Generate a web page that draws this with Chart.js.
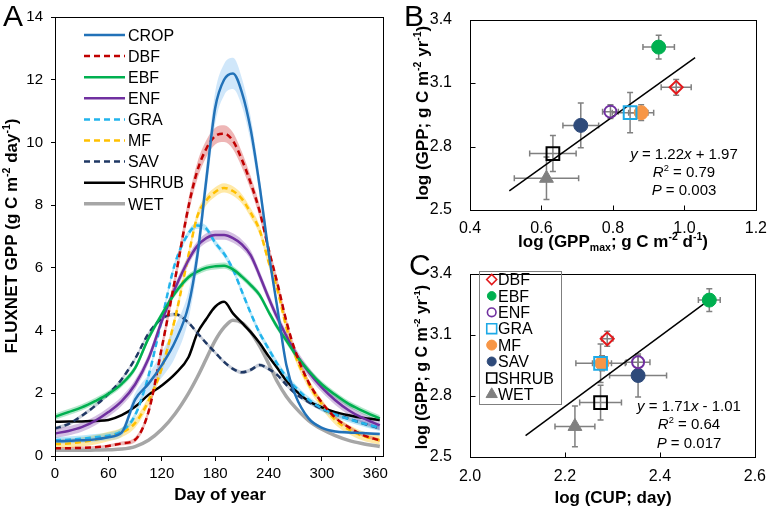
<!DOCTYPE html>
<html>
<head>
<meta charset="utf-8">
<title>FLUXNET GPP</title>
<script src="https://cdn.jsdelivr.net/npm/chart.js@4.4.1/dist/chart.umd.min.js"></script>
<style>
  html, body { margin: 0; padding: 0; background: #fff; }
  #fig { position: relative; width: 768px; height: 508px; overflow: hidden; }
  #fig canvas { position: absolute; }
</style>
</head>
<body>
<div id="fig">
  <canvas id="panelA" width="392" height="508" style="left:0;top:0"></canvas>
  <canvas id="panelB" width="376" height="254" style="left:392px;top:0"></canvas>
  <canvas id="panelC" width="376" height="254" style="left:392px;top:254px"></canvas>
</div>
<script>
// ---- panel A: seasonal GPP per biome ----
var DAYS = [0, 15, 30, 45, 60, 75, 90, 105, 120, 135, 150, 160, 170, 180, 190, 200, 210, 220, 230, 240, 250, 260, 270, 285, 300, 315, 330, 345, 365];
var DAY_TICKS = [0, 60, 120, 180, 240, 300, 360];
var GPP_TICKS = [0, 2, 4, 6, 8, 10, 12, 14];

var crop  = [0.47, 0.48, 0.5, 0.53, 0.6, 0.75, 1.8, 2.3, 2.9, 3.65, 4.8, 6.4, 8.8, 11.1, 12.0, 12.2, 11.6, 10.4, 8.6, 6.5, 4.7, 2.9, 1.95, 1.2, 0.9, 0.78, 0.75, 0.73, 0.7];
var dbf   = [0.25, 0.25, 0.26, 0.28, 0.32, 0.4, 0.52, 1.4, 3.45, 5.65, 7.95, 9.1, 9.8, 10.2, 10.28, 10.05, 9.45, 8.7, 7.8, 6.6, 5.5, 4.3, 3.35, 2.35, 1.7, 1.22, 0.92, 0.68, 0.5];
var ebf   = [1.25, 1.4, 1.55, 1.75, 1.98, 2.3, 2.8, 3.75, 4.52, 5.2, 5.7, 5.88, 6.0, 6.05, 6.07, 5.95, 5.72, 5.45, 5.13, 4.6, 4.1, 3.68, 3.25, 2.72, 2.28, 1.95, 1.66, 1.45, 1.2];
var enf   = [0.72, 0.8, 0.92, 1.12, 1.4, 1.75, 2.28, 3.1, 4.3, 5.35, 6.25, 6.7, 6.95, 7.05, 7.05, 6.95, 6.75, 6.4, 5.75, 5.05, 4.4, 3.83, 3.3, 2.68, 2.18, 1.78, 1.46, 1.22, 0.98];
var gra   = [0.5, 0.52, 0.55, 0.6, 0.65, 0.8, 1.3, 2.55, 4.35, 6.15, 7.1, 7.35, 7.25, 6.8, 6.45, 5.95, 5.25, 4.55, 3.92, 3.42, 2.93, 2.52, 2.2, 1.8, 1.52, 1.32, 1.18, 1.05, 0.9];
var mf    = [0.38, 0.4, 0.45, 0.52, 0.62, 0.75, 1.05, 1.75, 2.8, 4.4, 6.4, 7.65, 8.15, 8.42, 8.55, 8.45, 8.2, 7.75, 7.2, 6.2, 5.3, 4.1, 3.2, 2.3, 1.65, 1.15, 0.85, 0.65, 0.5];
var sav   = [0.88, 1.02, 1.28, 1.6, 1.98, 2.45, 3.1, 3.9, 4.38, 4.52, 4.25, 3.92, 3.6, 3.3, 3.0, 2.78, 2.67, 2.75, 2.9, 2.78, 2.58, 2.27, 2.0, 1.72, 1.5, 1.33, 1.19, 1.05, 0.88];
var shrub = [1.09, 1.1, 1.1, 1.12, 1.15, 1.3, 1.57, 1.95, 2.25, 2.62, 3.15, 3.92, 4.37, 4.76, 4.92, 4.55, 4.25, 3.95, 3.6, 3.18, 2.8, 2.4, 2.1, 1.75, 1.55, 1.4, 1.3, 1.22, 1.15];
var wet   = [0.18, 0.18, 0.18, 0.19, 0.2, 0.22, 0.3, 0.5, 0.85, 1.35, 2.0, 2.52, 3.1, 3.68, 4.1, 4.33, 4.25, 3.95, 3.5, 2.95, 2.36, 1.9, 1.55, 1.13, 0.85, 0.65, 0.5, 0.4, 0.3];

// half-width of the shaded uncertainty band
var cropSpread = [0.08, 0.08, 0.08, 0.08, 0.1, 0.12, 0.2, 0.3, 0.4, 0.5, 0.45, 0.4, 0.45, 0.5, 0.5, 0.5, 0.45, 0.4, 0.3, 0.2, 0.15, 0.1, 0.08, 0.06, 0.05, 0.05, 0.05, 0.05, 0.05];
var dbfSpread  = [0.04, 0.04, 0.04, 0.04, 0.05, 0.06, 0.08, 0.12, 0.18, 0.22, 0.25, 0.27, 0.27, 0.27, 0.27, 0.27, 0.25, 0.22, 0.2, 0.18, 0.15, 0.12, 0.1, 0.08, 0.06, 0.05, 0.05, 0.05, 0.05];

var names   = ['CROP', 'DBF', 'EBF', 'ENF', 'GRA', 'MF', 'SAV', 'SHRUB', 'WET'];
var values  = [crop, dbf, ebf, enf, gra, mf, sav, shrub, wet];
var spreads = [cropSpread, dbfSpread, 0.1, 0.15, 0.1, 0.15, 0.06, 0, 0];
var colors  = ['#2272b8', '#c00000', '#00b050', '#7030a0', '#22b4ec', '#ffc000', '#1f3864', '#000000', '#a6a6a6'];
var bands   = ['rgba(120,185,240,0.35)', 'rgba(205,45,45,0.35)', 'rgba(0,176,80,0.3)', 'rgba(112,48,160,0.3)',
               'rgba(34,180,236,0.3)', 'rgba(255,192,0,0.35)', 'rgba(31,56,100,0.25)', null, null];
var dashed  = [false, true, false, false, true, true, true, false, false];
var widths  = [2.5, 2.5, 2.5, 2.5, 2.5, 2.5, 2.5, 2.5, 3.5];

// ---- panels B and C: annual GPP vs GPPmax and CUP ----
var types     = ['DBF', 'EBF', 'ENF', 'GRA', 'MF', 'SAV', 'SHRUB', 'WET'];
var gppLog    = [3.08, 3.27, 2.965, 2.96, 2.96, 2.9, 2.767, 2.65];
var gppErr    = [0.037, 0.056, 0.033, 0.095, 0.037, 0.106, 0.085, 0.1];
var gppMaxLog = [0.977, 0.928, 0.793, 0.848, 0.879, 0.71, 0.632, 0.614];
var gppMaxErr = [0.042, 0.044, 0.022, 0.05, 0.035, 0.05, 0.065, 0.09];
var cupLog    = [2.289, 2.504, 2.354, 2.275, 2.278, 2.354, 2.275, 2.221];
var cupErr    = [0.012, 0.023, 0.025, 0.052, 0.02, 0.06, 0.044, 0.042];
var fitBx = [0.51, 1.03], fitBy = [2.59, 3.22];
var fitCx = [2.117, 2.506], fitCy = [2.605, 3.275];
var maxTicks = [0.4, 0.6, 0.8, 1.0, 1.2];
var cupTicks = [2.0, 2.2, 2.4, 2.6];
var gppLogTicks = [2.5, 2.8, 3.1, 3.4];

var markStyle  = ['rectRot', 'circle', 'circle', 'rect', 'circle', 'circle', 'rect', 'triangle'];
var markFill   = [null, '#00b050', null, null, '#f79646', '#2e4a7a', null, '#808080'];
var markEdge   = ['#e3191c', '#00b050', '#7030a0', '#1ea9e6', '#f79646', '#2e4a7a', '#000000', '#808080'];
var markRadius = [6.5, 7, 6, 9, 7, 7, 9, 8];
var legRadius  = [5, 4.3, 4.3, 7, 5, 4.5, 7, 6.5];

var FONT = '"Liberation Sans", Arial, Helvetica, sans-serif';
Chart.defaults.font.family = FONT;
Chart.defaults.color = '#000';

function partFont(kind, size, weight) {
  var small = kind === 'sup' || kind === 'sub';
  return (kind === 'i' ? 'italic ' : '') + weight + ' ' + (small ? size * 0.62 : size) + 'px ' + FONT;
}

// text made of parts: ['text', ''|'i'|'sup'|'sub'], centred on caps at (x, y)
function drawRich(ctx, t) {
  var size = t.size, weight = t.weight || 'normal';
  ctx.save();
  ctx.translate(t.x, t.y);
  if (t.rot) ctx.rotate(t.rot);
  ctx.fillStyle = '#000';
  ctx.textBaseline = 'alphabetic';
  ctx.textAlign = 'left';
  var w = 0;
  t.parts.forEach(function (p) { ctx.font = partFont(p[1], size, weight); w += ctx.measureText(p[0]).width; });
  var x = t.align === 'left' ? 0 : -w / 2;
  var base = size * 0.36;
  t.parts.forEach(function (p) {
    ctx.font = partFont(p[1], size, weight);
    var dy = p[1] === 'sup' ? -size * 0.4 : (p[1] === 'sub' ? size * 0.22 : 0);
    ctx.fillText(p[0], x, base + dy);
    x += ctx.measureText(p[0]).width;
  });
  ctx.restore();
}

function letter(ctx, s, x, y) {
  ctx.save();
  ctx.font = '30px ' + FONT;
  ctx.fillStyle = '#000';
  ctx.textBaseline = 'alphabetic';
  ctx.fillText(s, x, y);
  ctx.restore();
}

function framePlugin(inside) {
  return {
    id: 'frame',
    afterDatasetsDraw: function (chart) {
      var ctx = chart.ctx, a = chart.chartArea;
      var l = Math.round(a.left) + 0.5, t = Math.round(a.top) + 0.5;
      var r = Math.round(a.right) + 0.5, b = Math.round(a.bottom) + 0.5;
      ctx.save();
      ctx.strokeStyle = '#000';
      ctx.lineWidth = 1;
      ctx.strokeRect(l, t, r - l, b - t);
      if (inside) {
        ctx.beginPath();
        chart.scales.x.ticks.forEach(function (tk) {
          var px = Math.round(chart.scales.x.getPixelForValue(tk.value)) + 0.5;
          ctx.moveTo(px, b); ctx.lineTo(px, b - 5);
        });
        chart.scales.y.ticks.forEach(function (tk) {
          var py = Math.round(chart.scales.y.getPixelForValue(tk.value)) + 0.5;
          ctx.moveTo(l, py); ctx.lineTo(l + 5, py);
        });
        ctx.stroke();
      }
      ctx.restore();
    }
  };
}

var errorBars = {
  id: 'errorBars',
  beforeDatasetsDraw: function (chart) {
    var ctx = chart.ctx, xs = chart.scales.x, ys = chart.scales.y;
    ctx.save();
    ctx.strokeStyle = '#808080';
    ctx.lineWidth = 1.5;
    chart.data.datasets.forEach(function (ds) {
      if (ds.ey === undefined) return;
      var p = ds.data[0];
      var px = xs.getPixelForValue(p.x), py = ys.getPixelForValue(p.y);
      var x0 = xs.getPixelForValue(p.x - ds.ex), x1 = xs.getPixelForValue(p.x + ds.ex);
      var y0 = ys.getPixelForValue(p.y - ds.ey), y1 = ys.getPixelForValue(p.y + ds.ey);
      ctx.beginPath();
      ctx.moveTo(x0, py); ctx.lineTo(x1, py);
      ctx.moveTo(x0, py - 3); ctx.lineTo(x0, py + 3);
      ctx.moveTo(x1, py - 3); ctx.lineTo(x1, py + 3);
      ctx.moveTo(px, y0); ctx.lineTo(px, y1);
      ctx.moveTo(px - 3, y0); ctx.lineTo(px + 3, y0);
      ctx.moveTo(px - 3, y1); ctx.lineTo(px + 3, y1);
      ctx.stroke();
    });
    ctx.restore();
  }
};

function fixedTicks(list) {
  return function (scale) { scale.ticks = list.map(function (v) { return { value: v }; }); };
}

// ---------- Panel A ----------
var datasetsA = [];
names.forEach(function (name, i) {
  var sp = spreads[i];
  if (!sp) return;
  var half = function (j) { return Array.isArray(sp) ? sp[j] : sp; };
  var common = { pointRadius: 0, borderWidth: 0, borderColor: 'rgba(0,0,0,0)', cubicInterpolationMode: 'monotone', order: 30 };
  datasetsA.push(Object.assign({
    data: values[i].map(function (v, j) { return { x: DAYS[j], y: v + half(j) }; }),
    fill: '+1', backgroundColor: bands[i]
  }, common));
  datasetsA.push(Object.assign({
    data: values[i].map(function (v, j) { return { x: DAYS[j], y: v - half(j) }; }),
    fill: false
  }, common));
});
names.forEach(function (name, i) {
  datasetsA.push({
    label: name,
    data: values[i].map(function (v, j) { return { x: DAYS[j], y: v }; }),
    borderColor: colors[i],
    borderWidth: widths[i],
    borderDash: dashed[i] ? [6, 4] : [],
    pointRadius: 0,
    fill: false,
    cubicInterpolationMode: 'monotone',
    order: i
  });
});

var decorA = {
  id: 'decorA',
  afterDraw: function (chart) {
    var ctx = chart.ctx;
    letter(ctx, 'A', 3, 26);
    drawRich(ctx, { x: 11, y: 236, rot: -Math.PI / 2, size: 17, weight: 'bold',
      parts: [['FLUXNET GPP (g C m', ''], ['-2', 'sup'], [' day', ''], ['-1', 'sup'], [')', '']] });
    drawRich(ctx, { x: 220, y: 494, size: 17, weight: 'bold', parts: [['Day of year', '']] });
    names.forEach(function (name, i) {
      var y = 35 + i * 21.1;
      ctx.save();
      ctx.strokeStyle = colors[i];
      ctx.lineWidth = widths[i];
      ctx.setLineDash(dashed[i] ? [6, 4] : []);
      ctx.beginPath();
      ctx.moveTo(84, y); ctx.lineTo(125, y);
      ctx.stroke();
      ctx.restore();
      drawRich(ctx, { x: 128, y: y, size: 16, align: 'left', parts: [[name, '']] });
    });
  }
};

new Chart(document.getElementById('panelA'), {
  type: 'line',
  data: { datasets: datasetsA },
  options: {
    responsive: false,
    animation: false,
    events: [],
    layout: { padding: { left: 0, top: 17, right: 6, bottom: 0 } },
    plugins: { legend: { display: false }, tooltip: { enabled: false } },
    scales: {
      x: {
        type: 'linear', min: 0, max: 369,
        afterBuildTicks: fixedTicks(DAY_TICKS),
        afterFit: function (s) { s.height = 52; },
        ticks: { font: { size: 15 }, color: '#000', padding: 4, maxRotation: 0, autoSkip: false },
        grid: { display: true, drawOnChartArea: false, drawTicks: true, tickLength: 5, color: '#000' },
        border: { display: false }
      },
      y: {
        min: 0, max: 14,
        afterBuildTicks: fixedTicks(GPP_TICKS),
        afterFit: function (s) { s.width = 55; },
        ticks: { font: { size: 15 }, color: '#000', padding: 8, autoSkip: false },
        grid: { display: true, drawOnChartArea: false, drawTicks: true, tickLength: 4, color: '#000' },
        border: { display: false }
      }
    }
  },
  plugins: [framePlugin(false), decorA]
});

// ---------- Panels B and C ----------
function markerDatasets(xVals, xErrs) {
  return types.map(function (t, i) {
    return {
      label: t,
      data: [{ x: xVals[i], y: gppLog[i] }],
      pointStyle: markStyle[i],
      pointRadius: markRadius[i],
      backgroundColor: markFill[i] || 'rgba(0,0,0,0)',
      borderColor: markEdge[i],
      borderWidth: markFill[i] ? 1 : 2,
      ex: xErrs[i],
      ey: gppErr[i],
      order: 1
    };
  });
}

function fitDataset(xs, ys) {
  return {
    data: xs.map(function (x, i) { return { x: x, y: ys[i] }; }),
    showLine: true, borderColor: '#000', borderWidth: 1.5, pointRadius: 0, order: 5
  };
}

function scatterOptions(xMin, xMax, xTicks, padTop, xHeight, xPad) {
  var fmt = function (v) { return Number(v).toFixed(1); };
  return {
    responsive: false,
    animation: false,
    events: [],
    layout: { padding: { left: 0, top: padTop, right: 11, bottom: 0 } },
    plugins: { legend: { display: false }, tooltip: { enabled: false } },
    scales: {
      x: {
        type: 'linear', min: xMin, max: xMax,
        afterBuildTicks: fixedTicks(xTicks),
        afterFit: function (s) { s.height = xHeight; },
        ticks: { font: { size: 16 }, color: '#000', padding: xPad, maxRotation: 0, autoSkip: false, callback: fmt },
        grid: { display: false },
        border: { display: false }
      },
      y: {
        min: 2.5, max: 3.4,
        afterBuildTicks: fixedTicks(gppLogTicks),
        afterFit: function (s) { s.width = 78; },
        ticks: { font: { size: 16 }, color: '#000', padding: 10, autoSkip: false, callback: fmt },
        grid: { display: false },
        border: { display: false }
      }
    }
  };
}

var gppYTitle = [['log (GPP; g C m', ''], ['-2', 'sup'], [' yr', ''], ['-1', 'sup'], [')', '']];

var decorB = {
  id: 'decorB',
  afterDraw: function (chart) {
    var ctx = chart.ctx;
    letter(ctx, 'B', 12, 26);
    drawRich(ctx, { x: 30, y: 113, rot: -Math.PI / 2, size: 17, weight: 'bold', parts: gppYTitle });
    drawRich(ctx, { x: 221, y: 241, size: 17, weight: 'bold',
      parts: [['log (GPP', ''], ['max', 'sub'], ['; g C m', ''], ['-2', 'sup'], [' d', ''], ['-1', 'sup'], [')', '']] });
    drawRich(ctx, { x: 292, y: 154, size: 15, parts: [['y', 'i'], [' = 1.22', ''], ['x', 'i'], [' + 1.97', '']] });
    drawRich(ctx, { x: 292, y: 172, size: 15, parts: [['R', 'i'], ['2', 'sup'], [' = 0.79', '']] });
    drawRich(ctx, { x: 292, y: 190, size: 15, parts: [['P', 'i'], [' = 0.003', '']] });
  }
};

new Chart(document.getElementById('panelB'), {
  type: 'scatter',
  data: { datasets: [fitDataset(fitBx, fitBy)].concat(markerDatasets(gppMaxLog, gppMaxErr)) },
  options: scatterOptions(0.4, 1.2, maxTicks, 17, 44, 1),
  plugins: [errorBars, framePlugin(true), decorB]
});

var decorC = {
  id: 'decorC',
  afterDraw: function (chart) {
    var ctx = chart.ctx;
    letter(ctx, 'C', 17, 21);
    drawRich(ctx, { x: 29, y: 113, rot: -Math.PI / 2, size: 16, weight: 'bold', parts: gppYTitle });
    drawRich(ctx, { x: 221, y: 243, size: 17, weight: 'bold', parts: [['log (CUP; day)', '']] });
    drawRich(ctx, { x: 297, y: 152, size: 15, parts: [['y', 'i'], [' = 1.71', ''], ['x', 'i'], [' - 1.01', '']] });
    drawRich(ctx, { x: 297, y: 170, size: 15, parts: [['R', 'i'], ['2', 'sup'], [' = 0.64', '']] });
    drawRich(ctx, { x: 297, y: 188.5, size: 15, parts: [['P', 'i'], [' = 0.017', '']] });
    // legend box
    ctx.save();
    ctx.strokeStyle = '#7f7f7f';
    ctx.lineWidth = 1;
    ctx.strokeRect(87.5, 17.5, 82, 133);
    types.forEach(function (t, i) {
      var y = 25.5 + i * 16.4;
      ctx.fillStyle = markFill[i] || 'rgba(0,0,0,0)';
      ctx.strokeStyle = markEdge[i];
      ctx.lineWidth = markFill[i] ? 1 : 1.6;
      Chart.helpers.drawPoint(ctx, { pointStyle: markStyle[i], radius: legRadius[i], borderWidth: ctx.lineWidth, rotation: 0 }, 99.7, y);
      drawRich(ctx, { x: 106, y: y, size: 16, align: 'left', parts: [[t, '']] });
    });
    ctx.restore();
  }
};

new Chart(document.getElementById('panelC'), {
  type: 'scatter',
  data: { datasets: [fitDataset(fitCx, fitCy)].concat(markerDatasets(cupLog, cupErr)) },
  options: scatterOptions(2.0, 2.6, cupTicks, 11, 51, 2),
  plugins: [errorBars, framePlugin(true), decorC]
});
</script>
</body>
</html>
